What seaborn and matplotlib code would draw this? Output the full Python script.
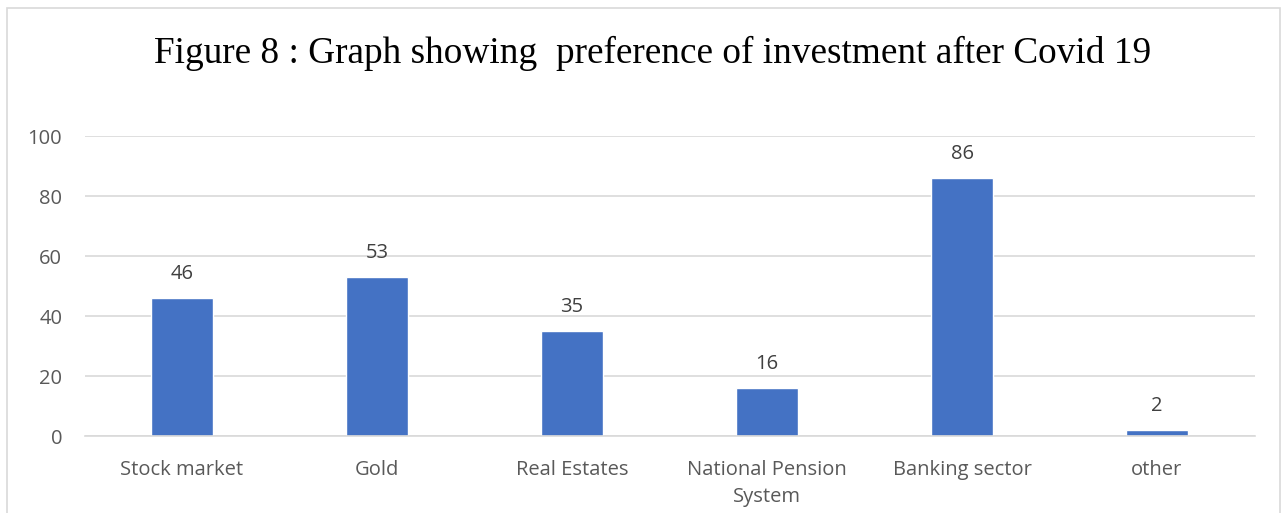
import matplotlib
matplotlib.use("Agg")
import matplotlib.pyplot as plt
import seaborn as sns
import pandas as pd
from matplotlib.patches import Rectangle

categories = ["Stock market", "Gold", "Real Estates", "National Pension\nSystem",
              "Banking sector", "other"]
values = [46, 53, 35, 16, 86, 2]
yticks = [0, 20, 40, 60, 80, 100]
title = "Figure 8 : Graph showing  preference of investment after Covid 19"

df = pd.DataFrame({"category": categories, "value": values})

sns.set_theme(style="white")
plt.rcParams["font.family"] = ["Open Sans", "DejaVu Sans"]

W, H = 1287, 513
fig = plt.figure(figsize=(W / 100, H / 100), dpi=100)
ax = fig.add_axes([84.5 / W, 1 - 436 / H, (1254.5 - 84.5) / W, 300 / H])

sns.barplot(data=df, x="category", y="value", color="#4472C4", width=0.32,
            saturation=1, ax=ax)

ax.set_ylim(0, 100)
ax.set_xlim(-0.5, len(categories) - 0.5)
ax.set_yticks(yticks)
ax.set_yticklabels([str(t) for t in yticks])
ax.yaxis.grid(True, color="#D9D9D9", linewidth=1.2)
ax.set_axisbelow(True)
for s in ["top", "right", "left"]:
    ax.spines[s].set_visible(False)
ax.spines["bottom"].set_color("#D9D9D9")
ax.spines["bottom"].set_linewidth(1.2)
ax.tick_params(axis="both", length=0, labelsize=14.5, labelcolor="#595959")
ax.tick_params(axis="y", pad=16)
ax.tick_params(axis="x", pad=17)
for lbl in ax.get_xticklabels():
    lbl.set_linespacing(1.5)
ax.set_xlabel("")
ax.set_ylabel("")

for container in ax.containers:
    ax.bar_label(container, labels=[str(v) for v in values], padding=10,
                 fontsize=14.5, color="#404040")

fig.text(653 / W, 1 - 53 / H, title, ha="center", va="center",
         fontsize=26.8, family="Liberation Serif", color="black")

# outer chart border
fig.patches.append(Rectangle((7 / W, -0.1), (1280 - 7) / W, 1.1 - 8 / H,
                             transform=fig.transFigure, fill=False,
                             edgecolor="#D9D9D9", linewidth=1.2))

fig.savefig("out.png", dpi=100)
